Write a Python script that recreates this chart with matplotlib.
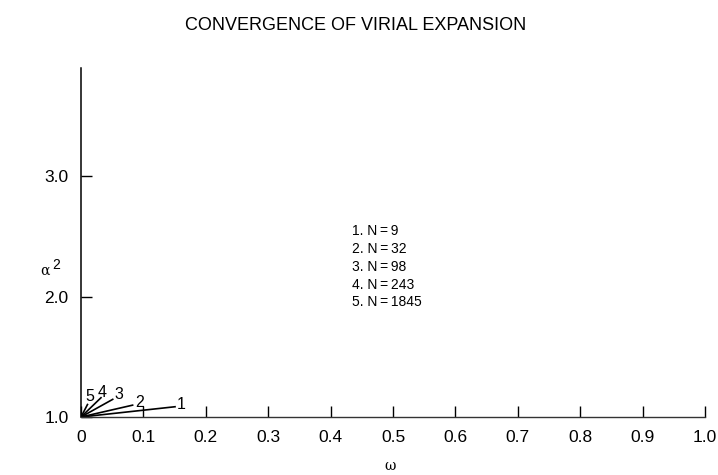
import matplotlib
matplotlib.use("Agg")
import matplotlib.pyplot as plt
from matplotlib import font_manager

# Data
curve_ids = ["1", "2", "3", "4", "5"]
n_values = [9, 32, 98, 243, 1845]
omega_start = [0.0, 0.0, 0.0, 0.0, 0.0]
alpha2_start = [1.0, 1.0, 1.0, 1.0, 1.0]
omega_end = [0.152, 0.084, 0.052, 0.033, 0.011]
alpha2_end = [1.086, 1.100, 1.150, 1.165, 1.110]
x_ticks = [0.0, 0.1, 0.2, 0.3, 0.4, 0.5, 0.6, 0.7, 0.8, 0.9, 1.0]
x_ticklabels = ["0", "0.1", "0.2", "0.3", "0.4", "0.5", "0.6", "0.7", "0.8", "0.9", "1.0"]
y_ticks = [1.0, 2.0, 3.0]
y_ticklabels = ["1.0", "2.0", "3.0"]

plt.rcParams["font.family"] = ["Liberation Sans", "DejaVu Sans"]
names = {f.name for f in font_manager.fontManager.ttflist}
title_family = ["Liberation Sans Narrow", "Liberation Sans"] if "Liberation Sans Narrow" in names else ["Liberation Sans"]
title_size = 15.5 if "Liberation Sans Narrow" in names else 13

fig = plt.figure(figsize=(7.18, 4.75), dpi=100)
ax = fig.add_axes([81 / 718, 1 - 417 / 475, (705 - 81) / 718, (417 - 68) / 475])

label_offsets = [(1, 1.5), (1, 2), (1, 3), (-3, 3), (-2, 5.5)]
for cid, x0, y0, x1, y1, off in zip(curve_ids, omega_start, alpha2_start,
                                    omega_end, alpha2_end, label_offsets):
    ax.plot([x0, x1], [y0, y1], color="black", lw=1.2, solid_capstyle="butt")
    ax.annotate(cid, (x1, y1), xytext=off, textcoords="offset points",
                ha="left", va="center", fontsize=11.5)

legend_lines = [f"{cid}. N\u2009=\u2009{n}" for cid, n in zip(curve_ids, n_values)]
ax.text(0.435, 2.60, "\n".join(legend_lines), fontsize=10, ha="left", va="top",
        linespacing=1.34)

ax.set_xlim(0, 1.0)
ax.set_ylim(1.0, 3.9)
ax.set_xticks(x_ticks)
ax.set_xticklabels(x_ticklabels, fontsize=12.5)
ax.set_yticks(y_ticks)
ax.set_yticklabels(y_ticklabels, fontsize=12.5)
ax.tick_params(axis="both", direction="in", length=8, width=1, pad=9)
ax.spines["top"].set_visible(False)
ax.spines["right"].set_visible(False)
ax.spines["left"].set_linewidth(1.1)
ax.spines["bottom"].set_linewidth(1.0)
ax.spines["bottom"].set_color("#333333")

fig.text(356 / 718, 1 - 25 / 475, "CONVERGENCE OF VIRIAL EXPANSION",
         ha="center", va="center", fontsize=title_size, family=title_family)
fig.text(45 / 718, 1 - 271 / 475, "α", ha="center", va="center", fontsize=10,
         family=["DejaVu Serif"])
fig.text(56 / 718, 1 - 265 / 475, "2", ha="center", va="center", fontsize=10)
fig.text(390 / 718, 1 - 466 / 475, "ω", ha="center", va="center", fontsize=10,
         family=["DejaVu Serif"])

fig.savefig("out.png", dpi=100)
